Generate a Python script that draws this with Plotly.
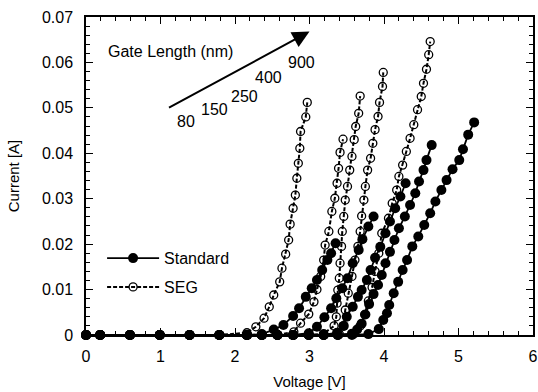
import plotly.graph_objects as go

# ---- data ----
base_x = [0, 0.19, 0.59, 0.99, 1.39, 1.79]
base_y = [0, 0, 0, 0, 0, 0]

std1_x = base_x + [2.16, 2.36, 2.52, 2.65, 2.78, 2.86, 2.95, 3.03, 3.10, 3.17, 3.24, 3.29, 3.35]
std1_y = base_y + [0, 0.0002, 0.0012, 0.0022, 0.0042, 0.0059, 0.0084, 0.0103, 0.0121, 0.0143, 0.0165, 0.0180, 0.0202]

std2_x = base_x + [2.16, 2.36, 2.57, 2.78, 2.99, 3.10, 3.20, 3.29, 3.36, 3.44, 3.51, 3.58, 3.66, 3.71, 3.79, 3.86]
std2_y = base_y + [0, 0, 0, 0, 0.0004, 0.0018, 0.0039, 0.0059, 0.0081, 0.0103, 0.0125, 0.0158, 0.0187, 0.0211, 0.0239, 0.0261]

std3_x = base_x + [2.16, 2.36, 2.57, 2.78, 2.99, 3.19, 3.37, 3.46, 3.50, 3.58, 3.65, 3.70, 3.77, 3.82, 3.88, 3.95, 4.02, 4.08, 4.15, 4.22, 4.29]
std3_y = base_y + [0, 0, 0, 0, 0, 0, 0.0005, 0.0020, 0.0040, 0.0062, 0.0084, 0.0099, 0.0121, 0.0143, 0.0170, 0.0194, 0.0224, 0.0250, 0.0279, 0.0305, 0.0334]

std4_x = base_x + [2.16, 2.36, 2.57, 2.78, 2.99, 3.19, 3.38, 3.57, 3.64, 3.70, 3.75, 3.80, 3.86, 3.92, 3.97, 4.02, 4.08, 4.14, 4.20, 4.28, 4.35, 4.42, 4.47, 4.53, 4.57, 4.64]
std4_y = base_y + [0, 0, 0, 0, 0, 0, 0, 0.0003, 0.0012, 0.0025, 0.0045, 0.0068, 0.0090, 0.0110, 0.0132, 0.0158, 0.0183, 0.0209, 0.0235, 0.0261, 0.0286, 0.0312, 0.0338, 0.0363, 0.0385, 0.0418]

std5_x = base_x + [2.16, 2.36, 2.57, 2.78, 2.99, 3.19, 3.38, 3.57, 3.79, 3.93, 3.99, 4.04, 4.07, 4.13, 4.19, 4.25, 4.31, 4.38, 4.46, 4.54, 4.62, 4.69, 4.77, 4.84, 4.92, 5.01, 5.06, 5.13, 5.21]
std5_y = base_y + [0, 0, 0, 0, 0, 0, 0, 0, 0.0002, 0.0013, 0.0033, 0.0048, 0.0066, 0.0092, 0.0117, 0.0143, 0.0165, 0.0195, 0.0217, 0.0242, 0.0268, 0.0294, 0.0319, 0.0341, 0.0365, 0.0385, 0.0409, 0.0441, 0.0468]

seg1_x = base_x + [2.16, 2.28, 2.39, 2.46, 2.52, 2.60, 2.63, 2.68, 2.72, 2.74, 2.78, 2.81, 2.83, 2.85, 2.87, 2.88, 2.95, 2.97]
seg1_y = base_y + [0.0005, 0.0018, 0.0037, 0.0062, 0.0088, 0.0117, 0.0147, 0.0178, 0.0209, 0.0244, 0.0279, 0.0308, 0.0345, 0.0378, 0.0411, 0.0448, 0.0480, 0.0512]

seg2_x = base_x + [2.16, 2.36, 2.57, 2.79, 2.88, 2.99, 3.06, 3.10, 3.15, 3.19, 3.21, 3.26, 3.30, 3.34, 3.37, 3.39, 3.41, 3.45]
seg2_y = base_y + [0, 0, 0, 0.0007, 0.0026, 0.0046, 0.0073, 0.0100, 0.0129, 0.0165, 0.0198, 0.0228, 0.0272, 0.0301, 0.0334, 0.0367, 0.0402, 0.0431]

seg3_x = base_x + [2.16, 2.36, 2.57, 2.78, 2.99, 3.19, 3.33, 3.36, 3.37, 3.38, 3.40, 3.41, 3.43, 3.44, 3.46, 3.48, 3.51, 3.54, 3.57, 3.60, 3.62, 3.66, 3.68]
seg3_y = base_y + [0, 0, 0, 0, 0, 0.0003, 0.0020, 0.0040, 0.0070, 0.0099, 0.0125, 0.0158, 0.0195, 0.0228, 0.0261, 0.0297, 0.0327, 0.0363, 0.0393, 0.0430, 0.0459, 0.0488, 0.0526]

seg4_x = base_x + [2.16, 2.36, 2.57, 2.78, 2.99, 3.19, 3.40, 3.45, 3.48, 3.52, 3.57, 3.61, 3.65, 3.68, 3.70, 3.73, 3.75, 3.78, 3.82, 3.85, 3.88, 3.92, 3.94, 3.98, 3.99]
seg4_y = base_y + [0, 0, 0, 0, 0, 0, 0.0002, 0.0020, 0.0055, 0.0092, 0.0129, 0.0165, 0.0195, 0.0228, 0.0262, 0.0297, 0.0327, 0.0363, 0.0389, 0.0422, 0.0452, 0.0481, 0.0512, 0.0547, 0.0578]

seg5_x = base_x + [2.16, 2.36, 2.57, 2.78, 2.99, 3.19, 3.38, 3.60, 3.68, 3.74, 3.79, 3.84, 3.88, 3.93, 3.97, 4.06, 4.11, 4.17, 4.20, 4.25, 4.30, 4.35, 4.40, 4.45, 4.50, 4.53, 4.57, 4.60, 4.62]
seg5_y = base_y + [0, 0, 0, 0, 0, 0, 0, 0.0003, 0.0020, 0.0045, 0.0075, 0.0105, 0.0140, 0.0180, 0.0224, 0.0257, 0.0290, 0.0319, 0.0349, 0.0374, 0.0404, 0.0433, 0.0463, 0.0496, 0.0525, 0.0554, 0.0585, 0.0617, 0.0646]

gate_lengths = ["80", "150", "250", "400", "900"]
x_ticks = [0, 1, 2, 3, 4, 5, 6]
y_ticks = [0, 0.01, 0.02, 0.03, 0.04, 0.05, 0.06, 0.07]
y_ticklabels = ["0", "0.01", "0.02", "0.03", "0.04", "0.05", "0.06", "0.07"]

FONT = "Arial, Liberation Sans, sans-serif"

fig = go.Figure()

seg_series = [(seg1_x, seg1_y), (seg2_x, seg2_y), (seg3_x, seg3_y), (seg4_x, seg4_y), (seg5_x, seg5_y)]
std_series = [(std1_x, std1_y), (std2_x, std2_y), (std3_x, std3_y), (std4_x, std4_y), (std5_x, std5_y)]

for i, (sx, sy) in enumerate(seg_series):
    fig.add_trace(go.Scatter(
        x=sx, y=sy, mode="lines+markers", name="SEG",
        showlegend=(i == 0), legendrank=2, legendgroup="seg",
        line=dict(color="black", width=2, dash="4px,2px"),
        marker=dict(symbol="circle-open", size=8, color="black", line=dict(width=1.3)),
        cliponaxis=False,
    ))

for i, (sx, sy) in enumerate(std_series):
    fig.add_trace(go.Scatter(
        x=sx, y=sy, mode="lines+markers", name="Standard",
        showlegend=(i == 0), legendrank=1, legendgroup="std",
        line=dict(color="black", width=1.8),
        marker=dict(symbol="circle", size=10, color="black"),
        cliponaxis=False,
    ))

# Gate length arrow and labels
fig.add_annotation(x=3.0, y=0.0668, xref="x", yref="y", ax=-142, ay=77,
                   text="", showarrow=True, arrowhead=2, arrowsize=1.7, arrowwidth=2,
                   arrowcolor="black")
fig.add_annotation(x=0.273, y=0.0623, xref="x", yref="y", text="Gate Length (nm)",
                   showarrow=False, xanchor="left", font=dict(size=16, family=FONT, color="black"))
label_pos = [(1.343, 0.0469), (1.731, 0.0496), (2.132, 0.0524), (2.454, 0.0566), (2.896, 0.0599)]
for lab, (lx, ly) in zip(gate_lengths, label_pos):
    fig.add_annotation(x=lx, y=ly, xref="x", yref="y", text=lab, showarrow=False,
                       font=dict(size=16, family=FONT, color="black"))

axis_common = dict(
    showline=True, linecolor="black", linewidth=1.5, mirror="ticks",
    ticks="inside", ticklen=7, tickwidth=1.3, tickcolor="black",
    showgrid=False, zeroline=False, automargin=False,
    tickfont=dict(size=16, family=FONT, color="black"),
)

fig.update_layout(
    width=538, height=392,
    margin=dict(l=86, r=5, t=17, b=57),
    paper_bgcolor="white", plot_bgcolor="white",
    font=dict(family=FONT, size=16, color="black"),
    xaxis=dict(range=[0, 6], tickvals=x_ticks, ticklabelstandoff=6,
               title=dict(text="Voltage [V]", font=dict(size=15, family=FONT), standoff=13),
               minor=dict(dtick=0.2, ticks="inside", ticklen=4, tickwidth=1, tickcolor="black"),
               **axis_common),
    yaxis=dict(range=[0, 0.07], tickvals=y_ticks, ticktext=y_ticklabels, ticklabelstandoff=8,
               title=dict(text="Current [A]", font=dict(size=15, family=FONT), standoff=19),
               minor=dict(dtick=0.002, ticks="inside", ticklen=4, tickwidth=1, tickcolor="black"),
               **axis_common),
    legend=dict(x=0.036, y=0.295, xanchor="left", yanchor="top", bgcolor="rgba(0,0,0,0)",
                font=dict(size=16, family=FONT), tracegroupgap=5, itemwidth=52),
    showlegend=True,
)

fig.write_html("out.html")
